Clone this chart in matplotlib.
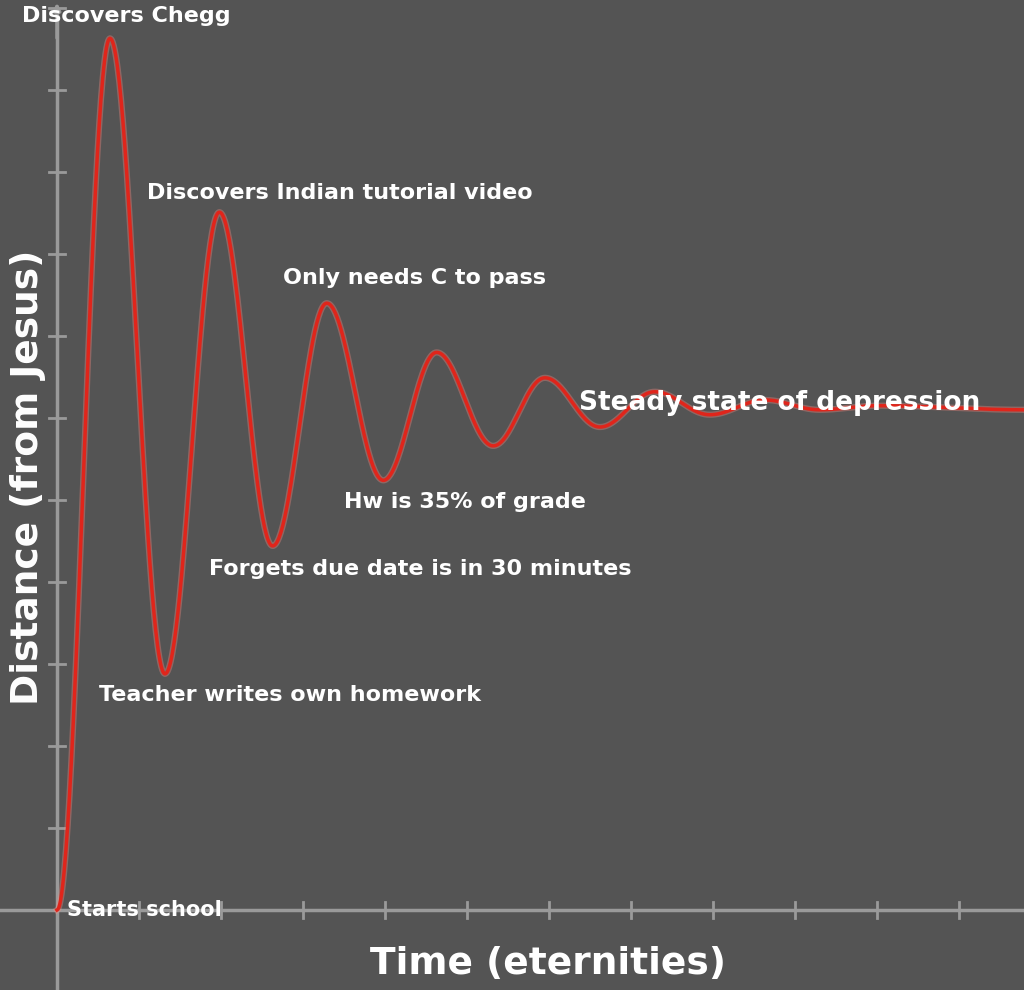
import numpy as np
import matplotlib
matplotlib.use("Agg")
import matplotlib.pyplot as plt

# extrema of the damped curve (time in eternities, distance units)
ext_t = [0, 0.646, 1.317, 1.98, 2.63, 3.29, 3.98, 4.63, 5.32, 5.95, 6.62, 7.29, 7.96, 8.63, 9.3, 10.0, 11.8]
ext_d = [0, 10.63, 2.88, 8.51, 4.44, 7.4, 5.24, 6.8, 5.66, 6.49, 5.89, 6.32, 6.04, 6.22, 6.1, 6.15, 6.1]

labels = ["Discovers Chegg", "Discovers Indian tutorial video", "Only needs C to pass",
          "Steady state of depression", "Hw is 35% of grade", "Forgets due date is in 30 minutes",
          "Teacher writes own homework", "Starts school"]
label_px = [(22, 16), (147, 193), (283, 278), (579, 403), (344, 502), (209, 569), (99, 695), (67, 910)]
label_size = [16, 16, 16, 19, 16, 16, 16, 15]

W, H = 1024, 990
fig = plt.figure(figsize=(W/100, H/100), dpi=100)
bg = "#545454"
fig.patch.set_facecolor(bg)
ax = fig.add_axes([0, 0, 1, 1])
ax.set_facecolor(bg)
U, X0, Y0 = 82.0, 57.0, 910.0
ax.set_xlim(-X0/U, (W-X0)/U)
ax.set_ylim(-(H-Y0)/U, Y0/U)
ax.axis("off")

def px(x, y):
    return (x-X0)/U, (Y0-y)/U

# curve: half-cosine segments between extrema
ts, ds = [], []
for i in range(len(ext_t)-1):
    s = np.linspace(0, 1, 60)
    w = (1-np.cos(np.pi*s))/2
    ts.append(ext_t[i] + (ext_t[i+1]-ext_t[i])*s)
    ds.append(ext_d[i] + (ext_d[i+1]-ext_d[i])*w)
t = np.concatenate(ts); d = np.concatenate(ds)

axc = "#9a9a9a"
ax.plot([0, 0], [-2, 10.9], color=axc, lw=2.5, zorder=1)
ax.plot([-1, 13], [0, 0], color=axc, lw=2.5, zorder=1)
ax.annotate("", xy=(0, 11.1), xytext=(0, 10.6),
            arrowprops=dict(arrowstyle="-|>", color=axc, lw=2.5))
for k in range(1, 12):
    ax.plot([k, k], [-0.1, 0.1], color=axc, lw=2)
    ax.plot([-0.1, 0.1], [k, k], color=axc, lw=2)

ax.plot(t, d, color="#ff8a80", lw=4.5, alpha=0.35, zorder=2)
ax.plot(t, d, color="#e0251b", lw=2.5, zorder=3)

for lab, (x, y), fs in zip(labels, label_px, label_size):
    xx, yy = px(x, y)
    ax.text(xx, yy, lab, color="white", fontsize=fs, fontweight="bold", ha="left", va="center", zorder=4)

xx, yy = px(28, 477)
ax.text(xx, yy, "Distance (from Jesus)", color="white", fontsize=27, fontweight="bold",
        rotation=90, ha="center", va="center")
xx, yy = px(548, 964)
ax.text(xx, yy, "Time (eternities)", color="white", fontsize=27, fontweight="bold",
        ha="center", va="center")

fig.savefig("out.png", dpi=100, facecolor=bg)
